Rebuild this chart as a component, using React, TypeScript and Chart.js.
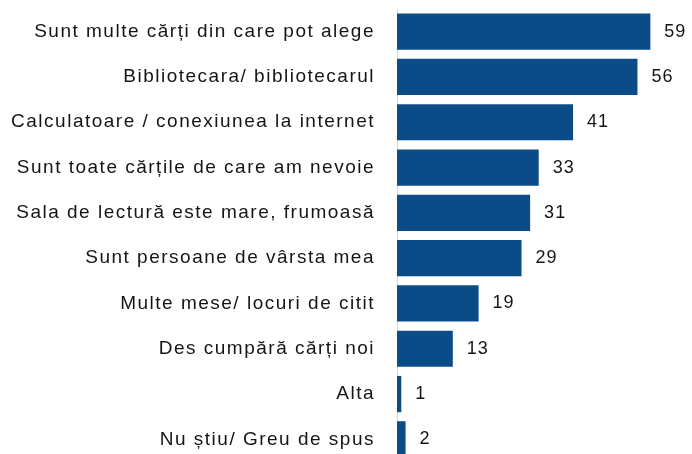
import React, { useEffect, useRef } from "react";
import { Chart, registerables } from "chart.js";

Chart.register(...registerables);

const categories = [
  "Sunt multe cărți din care pot alege",
  "Bibliotecara/ bibliotecarul",
  "Calculatoare / conexiunea la internet",
  "Sunt toate cărțile de care am nevoie",
  "Sala de lectură este mare, frumoasă",
  "Sunt persoane de vârsta mea",
  "Multe mese/ locuri de citit",
  "Des cumpără cărți noi",
  "Alta",
  "Nu știu/ Greu de spus",
];

const values = [59, 56, 41, 33, 31, 29, 19, 13, 1, 2];

const BAR_COLOR = "#0B4C88";
const TEXT_COLOR = "#151515";
const FONT = "'Liberation Sans', Arial, sans-serif";

const spacing = {
  id: "spacing",
  beforeDraw(chart: any) {
    (chart.ctx as any).letterSpacing = "1.5px";
  },
};

const valueLabels = {
  id: "valueLabels",
  afterDatasetsDraw(chart: any) {
    const ctx = chart.ctx;
    const meta = chart.getDatasetMeta(0);
    ctx.save();
    (ctx as any).letterSpacing = "1px";
    ctx.font = `18px ${FONT}`;
    ctx.fillStyle = TEXT_COLOR;
    ctx.textAlign = "left";
    ctx.textBaseline = "middle";
    meta.data.forEach((el: any, i: number) => {
      ctx.fillText(String(values[i]), el.x + 14, el.y);
    });
    ctx.restore();
  },
};

export default function App() {
  const ref = useRef<HTMLCanvasElement | null>(null);

  useEffect(() => {
    document.body.style.margin = "0";
    const canvas = ref.current!;
    const chart = new Chart(canvas, {
      type: "bar",
      data: {
        labels: categories,
        datasets: [
          {
            data: values,
            backgroundColor: BAR_COLOR,
            borderWidth: 0,
            barPercentage: 0.8,
            categoryPercentage: 1,
          },
        ],
      },
      options: {
        indexAxis: "y",
        animation: false,
        responsive: false,
        maintainAspectRatio: false,
        layout: { padding: { top: 9, bottom: 8, left: 0, right: 3 } },
        plugins: {
          legend: { display: false },
          tooltip: { enabled: false },
        },
        scales: {
          x: {
            display: false,
            min: 0,
            max: 68,
          },
          y: {
            grid: { display: false, drawTicks: false },
            border: { display: true, color: "#D6D6D6", width: 1 },
            ticks: {
              color: TEXT_COLOR,
              font: { family: FONT, size: 19 },
              padding: 22,
            },
            afterFit(scale: any) {
              scale.width = 397;
              scale.paddingTop = 0;
              scale.paddingBottom = 0;
            },
          },
        },
      },
      plugins: [spacing, valueLabels],
    });
    return () => chart.destroy();
  }, []);

  return (
    <div style={{ width: 692, height: 454, overflow: "hidden", position: "relative", background: "#fff" }}>
      <canvas ref={ref} width={692} height={470} style={{ position: "absolute", left: 0, top: 0 }} />
    </div>
  );
}
